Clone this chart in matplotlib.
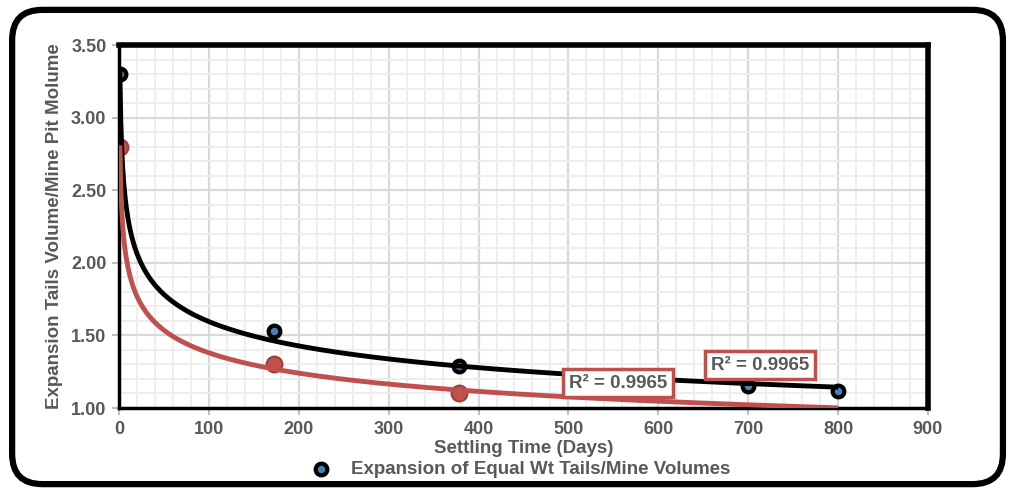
import numpy as np
import matplotlib.pyplot as plt
from matplotlib.patches import FancyBboxPatch
from matplotlib.ticker import MultipleLocator, FormatStrFormatter

plt.rcParams['font.family'] = ['Liberation Sans', 'DejaVu Sans']

# settling data
days_tails = [1, 173, 378, 700, 800]
ratio_tails = [3.30, 1.53, 1.29, 1.15, 1.12]
days_mine = [1, 173, 378]
ratio_mine = [2.80, 1.30, 1.10]
r2_text = ['R² = 0.9965', 'R² = 0.9965']

gray = '#595959'
blue = '#4a7ebb'
red = '#c0504d'

fig = plt.figure(figsize=(10.10, 4.93), dpi=100)
ax = fig.add_axes([0.1178, 0.1724, 0.801, 0.7363])

# rounded frame around the whole chart
frame = FancyBboxPatch((0.012, 0.018), 0.981, 0.962,
                       boxstyle='round,pad=0,rounding_size=0.03',
                       transform=fig.transFigure, fill=False,
                       edgecolor='black', linewidth=4.5, mutation_aspect=2.05)
fig.patches.append(frame)

# power-law trend lines, drawn over the points
xs = np.linspace(1, 800, 800)
for xd, yd, col in [(days_tails, ratio_tails, 'black'), (days_mine, ratio_mine, red)]:
    b, lna = np.polyfit(np.log(xd), np.log(yd), 1)
    ax.plot(xs, np.exp(lna) * xs ** b, color=col, lw=3.5, zorder=5, solid_capstyle='butt')

ax.scatter(days_mine, ratio_mine, s=132, color=red, edgecolor='#a33b38',
           linewidth=1.4, zorder=3)
ax.scatter(days_tails, ratio_tails, s=71, color=blue, edgecolor='black',
           linewidth=3.0, zorder=4, label='Expansion of Equal Wt Tails/Mine Volumes')

ax.set_xlim(0, 900)
ax.set_ylim(1.0, 3.5)
ax.xaxis.set_major_locator(MultipleLocator(100))
ax.xaxis.set_minor_locator(MultipleLocator(20))
ax.yaxis.set_major_locator(MultipleLocator(0.5))
ax.yaxis.set_minor_locator(MultipleLocator(0.1))
ax.yaxis.set_major_formatter(FormatStrFormatter('%.2f'))
ax.grid(which='minor', color='#eeeeee', lw=1.4, zorder=0)
ax.grid(which='major', color='#d9d9d9', lw=1.6, zorder=1)
ax.set_axisbelow(True)

for side in ['top', 'right']:
    ax.spines[side].set_linewidth(4)
for side in ['left', 'bottom']:
    ax.spines[side].set_linewidth(2.5)
ax.tick_params(which='major', length=5, width=1.5, color='#bfbfbf',
               labelsize=13, labelcolor=gray, pad=4)
ax.tick_params(which='minor', length=0)
for lab in ax.get_xticklabels() + ax.get_yticklabels():
    lab.set_fontweight('bold')

ax.set_xlabel('Settling Time (Days)', fontsize=13.5, fontweight='bold', color=gray, labelpad=2)
ax.set_ylabel('Expansion Tails Volume/Mine Pit Molume', fontsize=13.5,
              fontweight='bold', color=gray, labelpad=6)

box = dict(boxstyle='square,pad=0.3', facecolor='white', edgecolor=red, linewidth=2.5)
ax.text(555, 1.17, r2_text[0], fontsize=13.5, fontweight='bold', color=gray,
        ha='center', va='center', bbox=box, zorder=6)
ax.text(713, 1.296, r2_text[1], fontsize=13.5, fontweight='bold', color=gray,
        ha='center', va='center', bbox=box, zorder=6)

fig.legend(loc='center', bbox_to_anchor=(0.511, 0.047), frameon=False,
           prop={'size': 13.5, 'weight': 'bold'}, labelcolor=gray,
           handletextpad=0.6, markerscale=1.0)

fig.savefig('out.png', dpi=100)
